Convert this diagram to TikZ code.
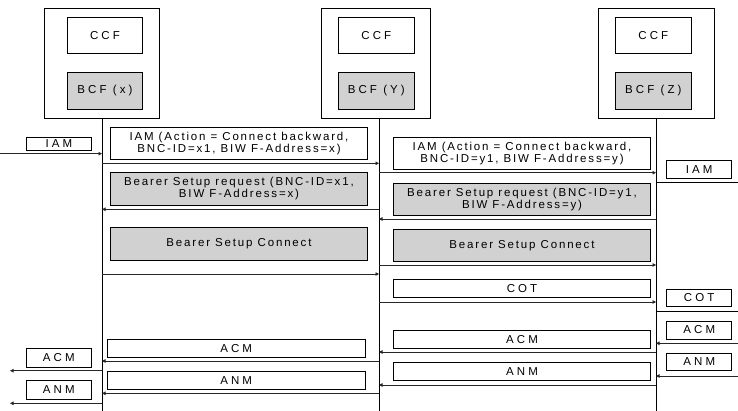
\documentclass[tikz,border=0pt]{standalone}
\usepackage{fontspec}
\setmainfont{Liberation Sans}[LetterSpace=16]
\usepackage{tikz}
\usetikzlibrary{arrows.meta}
\definecolor{bcfgray}{gray}{0.82}
\tikzset{
  unit/.style={draw,line width=0.7pt,inner sep=0pt},
  lbl/.style={draw,line width=0.7pt,inner sep=0pt,align=center,font=\fontsize{11.5}{12}\selectfont},
  short/.style={lbl,font=\fontsize{11.5}{12}\selectfont\addfontfeature{LetterSpace=27}},
  shaded/.style={fill=bcfgray},
  msg/.style={line width=0.7pt,black!85,-{Triangle[length=3.5pt,width=3.5pt]}},
  life/.style={line width=0.7pt}
}
\begin{document}
\begin{tikzpicture}[x=1pt,y=-1pt]
\useasboundingbox (0,0) rectangle (738,411);
% network entities
\node[unit,minimum width=115,minimum height=110] (fx) at (102.2,63) {};
\node[short,minimum width=74.6,minimum height=36] (ccfx) at (105,35.3) {CCF};
\node[short,shaded,minimum width=74.6,minimum height=37] (bcfx) at (105,90.5) {BCF (x)};
\node[unit,minimum width=109,minimum height=110] (fy) at (376.2,63) {};
\node[short,minimum width=76,minimum height=36] (ccfy) at (376.3,35.3) {CCF};
\node[short,shaded,minimum width=76,minimum height=37] (bcfy) at (376.3,90.5) {BCF (Y)};
\node[unit,minimum width=116,minimum height=110] (fz) at (656.3,63) {};
\node[short,minimum width=75.3,minimum height=36] (ccfz) at (653.3,35.3) {CCF};
\node[short,shaded,minimum width=75.3,minimum height=37] (bcfz) at (653.3,90.5) {BCF (Z)};
% lifelines
\coordinate (X) at (102,118);
\coordinate (Y) at (379,118);
\coordinate (Z) at (656,118);
\coordinate (W) at (0,118);
\coordinate (E) at (738,118);
\coordinate (Wt) at (10,118);
\draw[life] (X) -- (X |- 0,411);
\draw[life] (Y) -- (Y |- 0,411);
\draw[life] (Z) -- (Z |- 0,411);
% messages between X and Y
\node[short,minimum width=64.3,minimum height=12.7] (iamx) at (58.85,143.65) {IAM};
\draw[msg] (W |- 0,153.7) -- (X |- 0,153.7);
\node[lbl,minimum width=256.6,minimum height=32.3] (iamxy) at (239,143.15) {IAM (Action = Connect backward,\\BNC-ID=x1, BIW F-Address=x)};
\draw[msg] (X |- 0,163.3) -- (Y |- 0,163.3);
\node[lbl,shaded,minimum width=256.6,minimum height=32.6] (reqxy) at (239,189) {Bearer Setup request (BNC-ID=x1,\\BIW F-Address=x)};
\draw[msg] (Y |- 0,209.3) -- (X |- 0,209.3);
\node[lbl,shaded,minimum width=256.6,minimum height=32.3] (conxy) at (239,243.85) {Bearer Setup Connect};
\draw[msg] (X |- 0,274) -- (Y |- 0,274);
% messages between Y and Z
\node[lbl,minimum width=257.4,minimum height=32] (iamyz) at (522,153.3) {IAM (Action = Connect backward,\\BNC-ID=y1, BIW F-Address=y)};
\draw[msg] (Y |- 0,172.7) -- (Z |- 0,172.7);
\node[short,minimum width=65,minimum height=17.6] (iamz) at (699.2,169.5) {IAM};
\draw[life] (Z |- 0,182) -- (E |- 0,182);
\node[lbl,shaded,minimum width=257.4,minimum height=31.7] (reqyz) at (522,199.15) {Bearer Setup request (BNC-ID=y1,\\BIW F-Address=y)};
\draw[msg] (Z |- 0,219) -- (Y |- 0,219);
\node[lbl,shaded,minimum width=257.4,minimum height=32] (conyz) at (522,245.3) {Bearer Setup Connect};
\draw[msg] (Y |- 0,265) -- (Z |- 0,265);
\node[short,minimum width=257.4,minimum height=18.4] (cotyz) at (522,288.5) {COT};
\draw[msg] (Y |- 0,302) -- (Z |- 0,302);
\node[short,minimum width=65,minimum height=17.4] (cotz) at (699.2,298) {COT};
\draw[life] (Z |- 0,311.3) -- (E |- 0,311.3);
% answer messages back
\node[short,minimum width=65,minimum height=18] (acmz) at (699.2,330) {ACM};
\draw[msg] (E |- 0,343.3) -- (Z |- 0,343.3);
\node[short,minimum width=257.4,minimum height=18] (acmyz) at (522,339.3) {ACM};
\draw[msg] (Z |- 0,352) -- (Y |- 0,352);
\node[short,minimum width=65,minimum height=17.4] (anmz) at (699.2,362) {ANM};
\draw[msg] (E |- 0,376) -- (Z |- 0,376);
\node[short,minimum width=257.4,minimum height=17.7] (anmyz) at (522,371.15) {ANM};
\draw[msg] (Z |- 0,385) -- (Y |- 0,385);
\node[short,minimum width=257.7,minimum height=18.3] (acmxy) at (236.15,348.15) {ACM};
\draw[msg] (Y |- 0,361) -- (X |- 0,361);
\node[short,minimum width=64.3,minimum height=18.6] (acmx) at (58.85,358) {ACM};
\draw[msg] (X |- 0,370.7) -- (Wt |- 0,370.7);
\node[short,minimum width=257.7,minimum height=18] (anmxy) at (236.15,380.3) {ANM};
\draw[msg] (Y |- 0,393.3) -- (X |- 0,393.3);
\node[short,minimum width=64.3,minimum height=18.6] (anmx) at (58.85,390) {ANM};
\draw[msg] (X |- 0,403.3) -- (Wt |- 0,403.3);
\end{tikzpicture}
\end{document}
